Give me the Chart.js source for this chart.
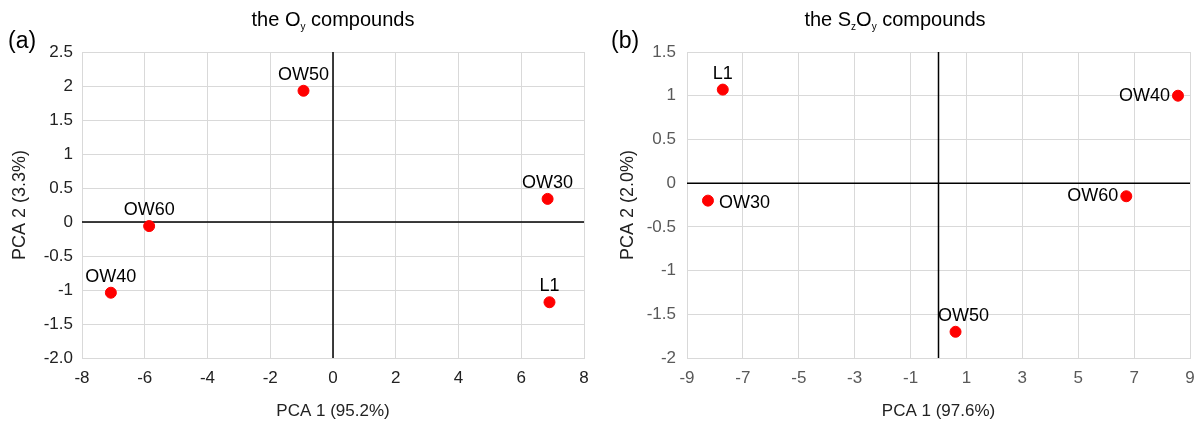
<!DOCTYPE html>
<html>
<head>
<meta charset="utf-8">
<script src="https://cdn.jsdelivr.net/npm/chart.js@4.4.1/dist/chart.umd.min.js"></script>
<style>
  body { margin: 0; background: #fff; font-family: 'Liberation Sans', Arial, sans-serif; }
  #page { position: relative; width: 1197px; height: 422px; overflow: hidden; }
  .box { position: absolute; top: 0; height: 422px; }
  .title { position: absolute; top: 8px; font-size: 20px; color: #000; transform: translateX(-50%); white-space: nowrap; }
  .title sub { font-size: 10px; vertical-align: -4px; }
  .panel { position: absolute; top: 27px; font-size: 23px; color: #000; }
</style>
</head>
<body>
<div id="page">
  <div class="box" style="left:0; width:598px;"><canvas id="chartA"></canvas></div>
  <div class="box" style="left:598px; width:599px;"><canvas id="chartB"></canvas></div>
  <div class="title" style="left:333px;">the O<sub>y</sub> compounds</div>
  <div class="title" style="left:895px;">the S<sub>z</sub>O<sub>y</sub> compounds</div>
  <div class="panel" style="left:8px;">(a)</div>
  <div class="panel" style="left:611px;">(b)</div>
</div>
<script>
// (a) the Oy compounds
const namesA = ['OW30', 'OW40', 'OW50', 'OW60', 'L1'];
const pca1A = [6.84, -7.08, -0.94, -5.86, 6.9];
const pca2A = [0.34, -1.04, 1.93, -0.06, -1.18];
const xTicksA = [-8, -6, -4, -2, 0, 2, 4, 6, 8];
const yTicksA = [-2, -1.5, -1, -0.5, 0, 0.5, 1, 1.5, 2, 2.5];
const yTickLabelsA = ['-2.0', '-1.5', '-1', '-0.5', '0', '0.5', '1', '1.5', '2', '2.5'];

// (b) the SzOy compounds
const namesB = ['OW30', 'OW40', 'OW50', 'OW60', 'L1'];
const pca1B = [-8.25, 8.57, 0.61, 6.72, -7.72];
const pca2B = [-0.2, 1.0, -1.70, -0.15, 1.07];
const xTicksB = [-9, -7, -5, -3, -1, 1, 3, 5, 7, 9];
const yTicksB = [-2, -1.5, -1, -0.5, 0, 0.5, 1, 1.5];

const FONT = "'Liberation Sans', Arial, sans-serif";

// draws the black zero axes and the point names
const pcaPlugin = {
    id: 'pca',
    beforeDatasetsDraw(chart) {
        const { ctx, chartArea, scales } = chart;
        const x0 = scales.x.getPixelForValue(0);
        const y0 = scales.y.getPixelForValue(0);
        ctx.save();
        ctx.strokeStyle = '#000';
        ctx.lineWidth = 1.5;
        ctx.beginPath();
        ctx.moveTo(x0, chartArea.top);
        ctx.lineTo(x0, chartArea.bottom);
        ctx.moveTo(chartArea.left, y0);
        ctx.lineTo(chartArea.right, y0);
        ctx.stroke();
        ctx.restore();
    },
    afterDatasetsDraw(chart) {
        const { ctx } = chart;
        const ds = chart.data.datasets[0];
        const meta = chart.getDatasetMeta(0);
        ctx.save();
        ctx.font = '18px ' + FONT;
        ctx.fillStyle = '#000';
        meta.data.forEach((pt, i) => {
            const pos = ds.labelPos[i];
            const name = ds.names[i];
            if (pos === 'left') {
                ctx.textAlign = 'right';
                ctx.textBaseline = 'middle';
                ctx.fillText(name, pt.x - 8, pt.y);
            } else if (pos === 'right') {
                ctx.textAlign = 'left';
                ctx.textBaseline = 'middle';
                ctx.fillText(name, pt.x + 11, pt.y + 2);
            } else {
                ctx.textAlign = 'center';
                ctx.textBaseline = 'alphabetic';
                ctx.fillText(name, pt.x + (ds.labelDx ? ds.labelDx[i] : 0), pt.y - 11);
            }
        });
        ctx.restore();
    }
};

function makeOptions(cfg) {
    return {
        responsive: true,
        maintainAspectRatio: false,
        animation: false,
        layout: { padding: { top: 52, right: cfg.padRight, bottom: 0, left: 0 } },
        plugins: { legend: { display: false }, tooltip: { enabled: false } },
        scales: {
            x: {
                type: 'linear',
                min: cfg.xTicks[0],
                max: cfg.xTicks[cfg.xTicks.length - 1],
                afterBuildTicks: (axis) => { axis.ticks = cfg.xTicks.map(v => ({ value: v })); },
                afterFit: (axis) => {
                    axis.height = 64;
                    axis.paddingLeft = 0;
                    axis.paddingRight = 0;
                },
                grid: { color: '#d9d9d9', lineWidth: 1, drawTicks: false },
                border: { color: '#d9d9d9' },
                ticks: { color: cfg.tickColor, font: { size: 17, family: FONT }, padding: 10, maxRotation: 0 },
                title: { display: true, text: cfg.xTitle, color: '#222', font: { size: 17, family: FONT }, padding: { top: 0, bottom: 0 } }
            },
            y: {
                type: 'linear',
                min: cfg.yTicks[0],
                max: cfg.yTicks[cfg.yTicks.length - 1],
                afterBuildTicks: (axis) => { axis.ticks = cfg.yTicks.map(v => ({ value: v })); },
                afterFit: (axis) => {
                    axis.width = cfg.yWidth;
                    axis.paddingTop = 0;
                    axis.paddingBottom = 0;
                },
                grid: { color: '#d9d9d9', lineWidth: 1, drawTicks: false },
                border: { color: '#d9d9d9' },
                ticks: {
                    color: cfg.tickColor,
                    font: { size: 17, family: FONT },
                    padding: cfg.yTickPad,
                    callback: (v, i) => cfg.yLabels ? cfg.yLabels[i] : String(v)
                },
                title: { display: true, text: cfg.yTitle, color: '#222', font: { size: 18, family: FONT }, padding: { top: cfg.yTitlePad, bottom: 0 } }
            }
        }
    };
}

new Chart(document.getElementById('chartA'), {
    type: 'scatter',
    data: {
        datasets: [{
            data: pca1A.map((x, i) => ({ x: x, y: pca2A[i] })),
            names: namesA,
            labelPos: ['top', 'top', 'top', 'top', 'top'],
            backgroundColor: '#ff0000',
            borderColor: '#ff0000',
            pointRadius: 5.5
        }]
    },
    options: makeOptions({
        xTicks: xTicksA, yTicks: yTicksA, yLabels: yTickLabelsA,
        xTitle: 'PCA 1 (95.2%)', yTitle: 'PCA 2 (3.3%)',
        yWidth: 82, padRight: 14, yTickPad: 9, yTitlePad: 9, tickColor: '#222'
    }),
    plugins: [pcaPlugin]
});

new Chart(document.getElementById('chartB'), {
    type: 'scatter',
    data: {
        datasets: [{
            data: pca1B.map((x, i) => ({ x: x, y: pca2B[i] })),
            names: namesB,
            labelPos: ['right', 'left', 'top', 'left', 'top'],
            labelDx: [0, 0, 8, 0, 0],
            backgroundColor: '#ff0000',
            borderColor: '#ff0000',
            pointRadius: 5.5
        }]
    },
    options: makeOptions({
        xTicks: xTicksB, yTicks: yTicksB, yLabels: null,
        xTitle: 'PCA 1 (97.6%)', yTitle: 'PCA 2 (2.0%)',
        yWidth: 89, padRight: 7, yTickPad: 11, yTitlePad: 19, tickColor: '#595959'
    }),
    plugins: [pcaPlugin]
});
</script>
</body>
</html>
